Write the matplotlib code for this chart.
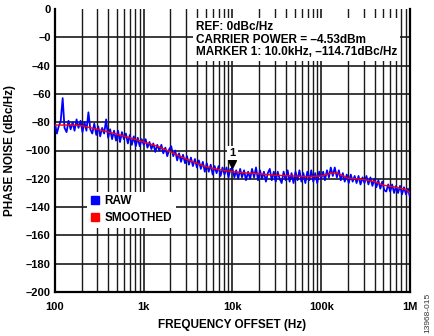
import matplotlib
matplotlib.use("Agg")
import matplotlib.pyplot as plt
from matplotlib.lines import Line2D
from matplotlib.ticker import FixedLocator, NullFormatter

plt.rcParams['font.family'] = ['Liberation Sans', 'DejaVu Sans']

# ---------------- data ----------------
raw_freq_hz = [
    100, 105, 110, 116, 122, 128, 135, 142, 150, 158, 166, 175, 184, 194, 204,
    215, 226, 238, 250, 263, 277, 292, 307, 323, 340, 358, 377, 397, 418, 440,
    463, 487, 513, 540, 568, 598, 629, 662, 697, 734, 772, 813, 856, 901, 948,
    1000, 1050, 1100, 1160, 1220, 1280, 1350, 1420, 1500, 1580, 1660, 1750, 1840, 1940, 2040,
    2150, 2260, 2380, 2500, 2630, 2770, 2920, 3070, 3230, 3400, 3580, 3770, 3970, 4180, 4400,
    4630, 4870, 5130, 5400, 5680, 5980, 6290, 6620, 6970, 7340, 7720, 8130, 8560, 9010, 9480,
    10000, 10500, 11000, 11600, 12200, 12800, 13500, 14200, 15000, 15800, 16600, 17500, 18400, 19400, 20400,
    21500, 22600, 23800, 25000, 26300, 27700, 29200, 30700, 32300, 34000, 35800, 37700, 39700, 41800, 44000,
    46300, 48700, 51300, 54000, 56800, 59800, 62900, 66200, 69700, 73400, 77200, 81300, 85600, 90100, 94800,
    100000, 105000, 110000, 116000, 122000, 128000, 135000, 142000, 150000, 158000, 166000, 175000, 184000, 194000, 204000,
    215000, 226000, 238000, 250000, 263000, 277000, 292000, 307000, 323000, 340000, 358000, 377000, 397000, 418000, 440000,
    463000, 487000, 513000, 540000, 568000, 598000, 629000, 662000, 697000, 734000, 772000, 813000, 856000, 901000, 948000,
    1000000,
]
raw_dbc = [
    -81, -88, -83, -79, -63, -84, -87, -79, -85, -80, -86, -78, -84, -79, -87,
    -80, -86, -73, -85, -88, -81, -89, -83, -90, -84, -88, -78, -91, -85, -92,
    -86, -93, -86, -94, -87, -92, -88, -95, -89, -96, -90, -97, -91, -97, -92,
    -96, -92, -98, -94, -99, -95, -101, -96, -100, -96, -102, -98, -104, -99, -97,
    -104, -100, -107, -102, -108, -103, -109, -104, -110, -105, -111, -106, -112, -107, -113,
    -108, -115, -109, -115, -110, -117, -111, -116, -111, -118, -112, -117, -112, -119, -113,
    -113, -119, -114, -120, -113, -119, -114, -121, -115, -120, -113, -119, -112, -121, -114,
    -120, -115, -122, -116, -113, -121, -115, -122, -115, -120, -123, -115, -121, -114, -122,
    -116, -123, -115, -121, -114, -122, -116, -123, -115, -121, -114, -122, -116, -123, -115,
    -120, -115, -121, -114, -119, -112, -118, -112, -119, -114, -121, -116, -122, -117, -123,
    -117, -122, -118, -123, -118, -124, -119, -123, -118, -124, -119, -125, -120, -126, -121,
    -127, -122, -128, -129, -124, -129, -124, -130, -125, -130, -125, -131, -126, -131, -127,
    -133,
]
smooth_freq_hz = [100, 150, 200, 300, 500, 700, 1000, 1500, 2000, 3000, 5000, 7000,
                  10000, 15000, 20000, 30000, 50000, 70000, 100000, 130000, 150000,
                  200000, 300000, 400000, 500000, 700000, 900000, 1000000]
smooth_dbc = [-82, -82, -82.5, -85, -88.5, -91, -94, -97.5, -101, -106, -111.5, -113.5,
              -115, -116, -116.5, -117.5, -118, -118.5, -118, -116, -116,
              -119.5, -120.5, -122, -124.5, -126, -127.5, -130]

marker_freq_hz = 10000
marker_dbc = -114.71
y_ticks = [0, -20, -40, -60, -80, -100, -120, -140, -160, -180, -200]
y_tick_labels = ['0', '–0', '–40', '–60', '–80', '–100', '–120', '–140', '–160', '–180', '–200']
x_ticks = [100, 1000, 10000, 100000, 1000000]
x_tick_labels = ['100', '1k', '10k', '100k', '1M']
info_lines = ['REF: 0dBc/Hz', 'CARRIER POWER = –4.53dBm', 'MARKER 1: 10.0kHz, –114.71dBc/Hz']

# ---------------- figure ----------------
fig = plt.figure(figsize=(4.35, 3.36), dpi=100)
ax = fig.add_axes([55/435, 1-292/336, 355/435, 283/336])

ax.set_xscale('log')
ax.set_xlim(100, 1e6)
ax.set_ylim(-200, 0)

# grid
minor = [m * d for d in (100, 1000, 10000, 100000) for m in range(2, 10)]
ax.xaxis.set_major_locator(FixedLocator(x_ticks))
ax.xaxis.set_minor_locator(FixedLocator(minor))
ax.xaxis.set_minor_formatter(NullFormatter())
ax.set_xticks(x_ticks)
ax.set_xticklabels(x_tick_labels)
ax.set_yticks(y_ticks)
ax.set_yticklabels(y_tick_labels)
ax.grid(True, which='major', color='#1a1a1a', lw=1.2, zorder=0)
ax.grid(True, which='minor', axis='x', color='#1a1a1a', lw=1.0, zorder=0)
ax.set_axisbelow(True)
for gl, t in zip(ax.yaxis.get_gridlines(), ax.get_yticks()):
    if t == 0:
        gl.set_visible(False)

ax.tick_params(which='both', length=0)
ax.tick_params(axis='y', pad=3, labelsize=8)
ax.tick_params(axis='x', pad=7, labelsize=8)
for lab in ax.get_xticklabels() + ax.get_yticklabels():
    lab.set_fontweight('bold')

for s in ('left', 'bottom', 'right'):
    ax.spines[s].set_linewidth(1.6)
    ax.spines[s].set_color('black')
ax.spines['top'].set_visible(False)

# data
ax.plot(raw_freq_hz, raw_dbc, color='#0000ff', lw=1.3, zorder=3)
ax.plot(smooth_freq_hz, smooth_dbc, color='#ff0000', lw=1.0, zorder=4)

# marker
ax.plot([marker_freq_hz], [-109.5], marker='v', color='black', markersize=6, zorder=5)
ax.text(marker_freq_hz, -101.5, '1', ha='center', va='center', fontsize=8, fontweight='bold',
        zorder=5, bbox=dict(facecolor='white', edgecolor='none', pad=1.5))

# info text
ax.text(0.398, 0.957, '\n'.join(info_lines), transform=ax.transAxes, ha='left', va='top',
        fontsize=8.5, fontweight='bold', linespacing=1.05, zorder=6,
        bbox=dict(facecolor='white', edgecolor='none', pad=2))

# legend
handles = [Line2D([], [], ls='none', marker='s', color='#0000ff', markersize=6),
           Line2D([], [], ls='none', marker='s', color='#ff0000', markersize=6)]
leg = ax.legend(handles, ['RAW', 'SMOOTHED'], loc='upper left', bbox_to_anchor=(0.09, 0.355),
                frameon=True, fancybox=False, framealpha=1, edgecolor='none', facecolor='white',
                handlelength=0.8, handletextpad=0.4, borderpad=0.3, labelspacing=0.45,
                prop=dict(size=8.5, weight='bold'), borderaxespad=0)
leg.set_zorder(6)

ax.set_xlabel('FREQUENCY OFFSET (Hz)', fontsize=8.5, fontweight='bold')
ax.set_ylabel('PHASE NOISE (dBc/Hz)', fontsize=8.5, fontweight='bold')
ax.xaxis.set_label_coords(0.5, -0.095)
ax.yaxis.set_label_coords(-0.111, 0.5)

fig.text(428/435, 1-313/336, '13968-015', rotation=90, ha='center', va='center',
         fontsize=6, color='#333333')

fig.savefig('out.png', dpi=100)
